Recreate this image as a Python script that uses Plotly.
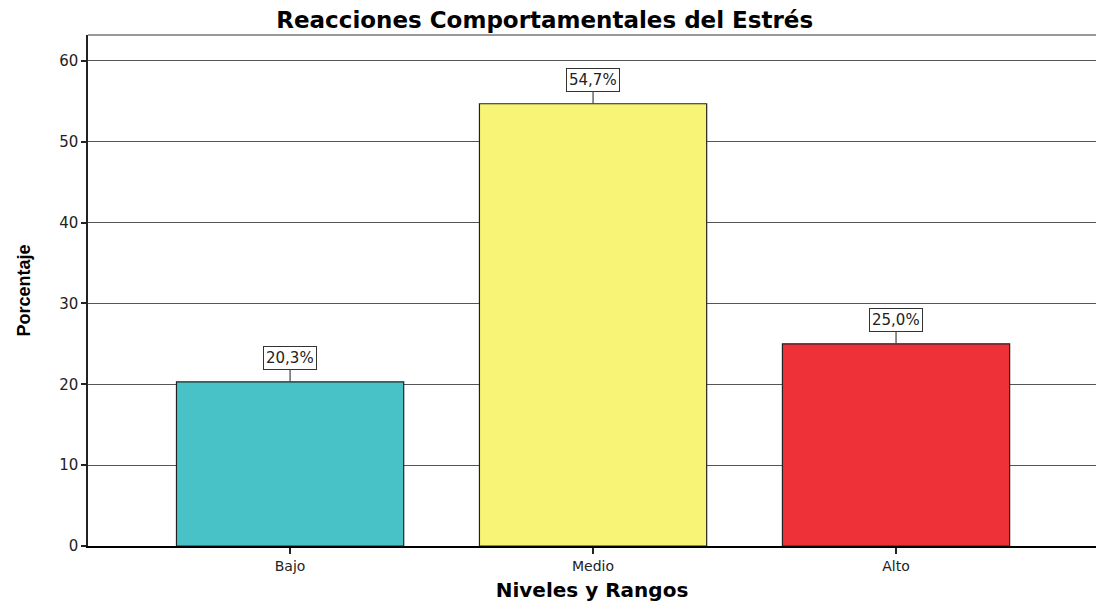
import plotly.graph_objs as go

# data
niveles = ['Bajo', 'Medio', 'Alto']
porcentaje = [20.3, 54.7, 25.0]
etiquetas = ['20,3%', '54,7%', '25,0%']
colores = ['#48C2C6', '#F8F475', '#EE3039']
y_ticks = [0, 10, 20, 30, 40, 50, 60]

FONT = 'DejaVu Sans, Liberation Sans, Arial, sans-serif'

fig = go.Figure(
    go.Bar(
        x=niveles,
        y=porcentaje,
        width=0.75,
        marker=dict(color=colores, line=dict(color='#222222', width=1.2)),
        hoverinfo='x+y'))

annotations = [
    dict(
        x=n, y=p, xref='x', yref='y',
        text=t,
        showarrow=True, arrowhead=0, arrowwidth=1.2, arrowcolor='#444444',
        ax=0, ay=-24,
        bgcolor='white', bordercolor='#333333', borderwidth=1, borderpad=2,
        font=dict(family=FONT, size=15, color='#222222'))
    for n, p, t in zip(niveles, porcentaje, etiquetas)]

fig.update_layout(
    width=1096, height=602,
    margin=dict(l=88, r=0, t=35, b=56),
    plot_bgcolor='white', paper_bgcolor='white',
    showlegend=False,
    bargap=0.25,
    title=dict(
        text='<b>Reacciones Comportamentales del Estrés</b>',
        x=0.497, xanchor='center', y=1 - 20 / 602, yanchor='middle',
        font=dict(family=FONT, size=23, color='black')),
    annotations=annotations,
    shapes=[dict(type='line', xref='paper', yref='paper', x0=0, x1=1, y0=1, y1=1,
                 line=dict(color='#777777', width=1.5))],
    xaxis=dict(
        range=[-0.667, 2.66],
        showline=True, linecolor='black', linewidth=1.5,
        ticks='outside', ticklen=6, tickcolor='#222222', tickwidth=1.5,
        tickfont=dict(family=FONT, size=14, color='#222222'),
        title=dict(text='<b>Niveles y Rangos</b>', standoff=10,
                   font=dict(family=FONT, size=20, color='black')),
        showgrid=False, zeroline=False, fixedrange=True),
    yaxis=dict(
        range=[0, 63.2],
        tickvals=y_ticks,
        showline=True, linecolor='#222222', linewidth=1.5,
        ticks='outside', ticklen=5, tickcolor='#222222', tickwidth=1.5,
        tickfont=dict(family=FONT, size=15, color='#222222'),
        showgrid=True, gridcolor='#555555', gridwidth=1.2,
        zeroline=False,
        title=dict(text='<b>Porcentaje</b>', standoff=24,
                   font=dict(family='Liberation Sans Narrow, Arial Narrow, Liberation Sans',
                             size=18, color='black')),
        fixedrange=True))

fig.write_html("out.html", config={'displayModeBar': False},
               post_script="document.body.style.margin='0';")
